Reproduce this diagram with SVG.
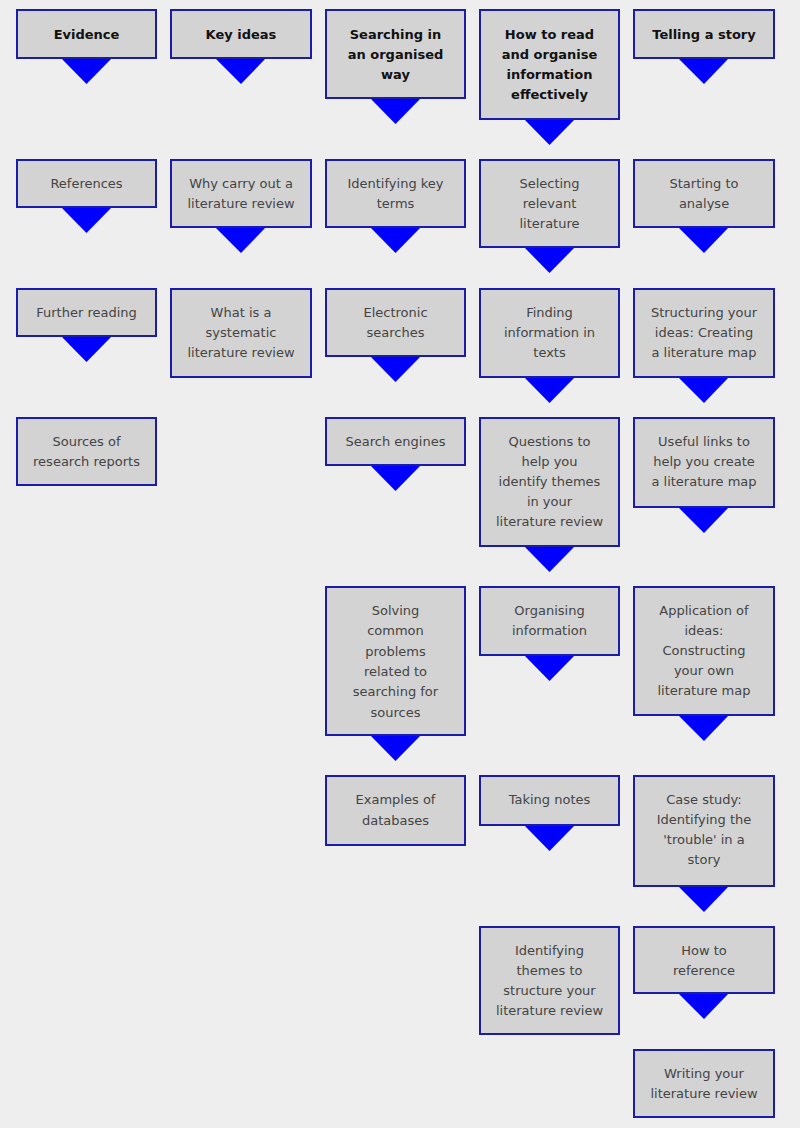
<svg xmlns="http://www.w3.org/2000/svg" width="800" height="1128" viewBox="0 0 800 1128">
<style>
.b{fill:#d3d3d3;stroke:#1c1caa;stroke-width:2}
.t{font-family:"DejaVu Sans",Verdana,sans-serif;font-size:13px;fill:#444;text-anchor:middle}
.h{font-weight:bold;fill:#111}
.a{fill:#0000ff}
</style>
<rect width="800" height="1128" fill="#eeeeee"/>
<g id="connectors">
<polygon class="a" points="61,58 112,58 86.5,84"/>
<polygon class="a" points="215,58 266,58 241,84"/>
<polygon class="a" points="370,98 421,98 395.5,124"/>
<polygon class="a" points="524,119 575,119 549.5,145"/>
<polygon class="a" points="678,58 729,58 704,84"/>
<polygon class="a" points="61,207 112,207 86.5,233"/>
<polygon class="a" points="215,227 266,227 241,253"/>
<polygon class="a" points="370,227 421,227 395.5,253"/>
<polygon class="a" points="524,247 575,247 549.5,273"/>
<polygon class="a" points="678,227 729,227 704,253"/>
<polygon class="a" points="61,336 112,336 86.5,362"/>
<polygon class="a" points="370,356 421,356 395.5,382"/>
<polygon class="a" points="524,377 575,377 549.5,403"/>
<polygon class="a" points="678,377 729,377 704,403"/>
<polygon class="a" points="370,465 421,465 395.5,491"/>
<polygon class="a" points="524,546 575,546 549.5,572"/>
<polygon class="a" points="678,507 729,507 704,533"/>
<polygon class="a" points="370,735 421,735 395.5,761"/>
<polygon class="a" points="524,655 575,655 549.5,681"/>
<polygon class="a" points="678,715 729,715 704,741"/>
<polygon class="a" points="524,825 575,825 549.5,851"/>
<polygon class="a" points="678,886 729,886 704,912"/>
<polygon class="a" points="678,993 729,993 704,1019"/>
</g>
<g id="n1"><rect class="b" x="17" y="10" width="139" height="48"/><text class="t h" x="86.5" y="38.5">Evidence</text></g>
<g id="n2"><rect class="b" x="171" y="10" width="140" height="48"/><text class="t h" x="241" y="38.5">Key ideas</text></g>
<g id="n3"><rect class="b" x="326" y="10" width="139" height="88"/><text class="t h" x="395.5" y="38.5">Searching in<tspan x="395.5" dy="20">an organised</tspan><tspan x="395.5" dy="20">way</tspan></text></g>
<g id="n4"><rect class="b" x="480" y="10" width="139" height="109"/><text class="t h" x="549.5" y="39">How to read<tspan x="549.5" dy="20">and organise</tspan><tspan x="549.5" dy="20">information</tspan><tspan x="549.5" dy="20">effectively</tspan></text></g>
<g id="n5"><rect class="b" x="634" y="10" width="140" height="48"/><text class="t h" x="704" y="38.5">Telling a story</text></g>

<g id="n6"><rect class="b" x="17" y="160" width="139" height="47"/><text class="t" x="86.5" y="188">References</text></g>
<g id="n7"><rect class="b" x="171" y="160" width="140" height="67"/><text class="t" x="241" y="188">Why carry out a<tspan x="241" dy="20">literature review</tspan></text></g>
<g id="n8"><rect class="b" x="326" y="160" width="139" height="67"/><text class="t" x="395.5" y="188">Identifying key<tspan x="395.5" dy="20">terms</tspan></text></g>
<g id="n9"><rect class="b" x="480" y="160" width="139" height="87"/><text class="t" x="549.5" y="188">Selecting<tspan x="549.5" dy="20">relevant</tspan><tspan x="549.5" dy="20">literature</tspan></text></g>
<g id="n10"><rect class="b" x="634" y="160" width="140" height="67"/><text class="t" x="704" y="188">Starting to<tspan x="704" dy="20">analyse</tspan></text></g>

<g id="n11"><rect class="b" x="17" y="289" width="139" height="47"/><text class="t" x="86.5" y="317">Further reading</text></g>
<g id="n12"><rect class="b" x="171" y="289" width="140" height="88"/><text class="t" x="241" y="317">What is a<tspan x="241" dy="20">systematic</tspan><tspan x="241" dy="20">literature review</tspan></text></g>
<g id="n13"><rect class="b" x="326" y="289" width="139" height="67"/><text class="t" x="395.5" y="317">Electronic<tspan x="395.5" dy="20">searches</tspan></text></g>
<g id="n14"><rect class="b" x="480" y="289" width="139" height="88"/><text class="t" x="549.5" y="317">Finding<tspan x="549.5" dy="20">information in</tspan><tspan x="549.5" dy="20">texts</tspan></text></g>
<g id="n15"><rect class="b" x="634" y="289" width="140" height="88"/><text class="t" x="704" y="317">Structuring your<tspan x="704" dy="20">ideas: Creating</tspan><tspan x="704" dy="20">a literature map</tspan></text></g>

<g id="n16"><rect class="b" x="17" y="418" width="139" height="67"/><text class="t" x="86.5" y="446">Sources of<tspan x="86.5" dy="20">research reports</tspan></text></g>
<g id="n17"><rect class="b" x="326" y="418" width="139" height="47"/><text class="t" x="395.5" y="446">Search engines</text></g>
<g id="n18"><rect class="b" x="480" y="418" width="139" height="128"/><text class="t" x="549.5" y="446">Questions to<tspan x="549.5" dy="20">help you</tspan><tspan x="549.5" dy="20">identify themes</tspan><tspan x="549.5" dy="20">in your</tspan><tspan x="549.5" dy="20">literature review</tspan></text></g>
<g id="n19"><rect class="b" x="634" y="418" width="140" height="89"/><text class="t" x="704" y="446">Useful links to<tspan x="704" dy="20">help you create</tspan><tspan x="704" dy="20">a literature map</tspan></text></g>

<g id="n20"><rect class="b" x="326" y="587" width="139" height="148"/><text class="t" x="395.5" y="615">Solving<tspan x="395.5" dy="20.3">common</tspan><tspan x="395.5" dy="20.3">problems</tspan><tspan x="395.5" dy="20.3">related to</tspan><tspan x="395.5" dy="20.3">searching for</tspan><tspan x="395.5" dy="20.3">sources</tspan></text></g>
<g id="n21"><rect class="b" x="480" y="587" width="139" height="68"/><text class="t" x="549.5" y="615">Organising<tspan x="549.5" dy="20">information</tspan></text></g>
<g id="n22"><rect class="b" x="634" y="587" width="140" height="128"/><text class="t" x="704" y="615">Application of<tspan x="704" dy="20">ideas:</tspan><tspan x="704" dy="20">Constructing</tspan><tspan x="704" dy="20">your own</tspan><tspan x="704" dy="20">literature map</tspan></text></g>

<g id="n23"><rect class="b" x="326" y="776" width="139" height="69"/><text class="t" x="395.5" y="804">Examples of<tspan x="395.5" dy="21">databases</tspan></text></g>
<g id="n24"><rect class="b" x="480" y="776" width="139" height="49"/><text class="t" x="549.5" y="804">Taking notes</text></g>
<g id="n25"><rect class="b" x="634" y="776" width="140" height="110"/><text class="t" x="704" y="804">Case study:<tspan x="704" dy="20">Identifying the</tspan><tspan x="704" dy="20">'trouble' in a</tspan><tspan x="704" dy="20">story</tspan></text></g>

<g id="n26"><rect class="b" x="480" y="927" width="139" height="107"/><text class="t" x="549.5" y="955">Identifying<tspan x="549.5" dy="20">themes to</tspan><tspan x="549.5" dy="20">structure your</tspan><tspan x="549.5" dy="20">literature review</tspan></text></g>
<g id="n27"><rect class="b" x="634" y="927" width="140" height="66"/><text class="t" x="704" y="955">How to<tspan x="704" dy="20">reference</tspan></text></g>

<g id="n28"><rect class="b" x="634" y="1050" width="140" height="67"/><text class="t" x="704" y="1078">Writing your<tspan x="704" dy="20">literature review</tspan></text></g>
</svg>
